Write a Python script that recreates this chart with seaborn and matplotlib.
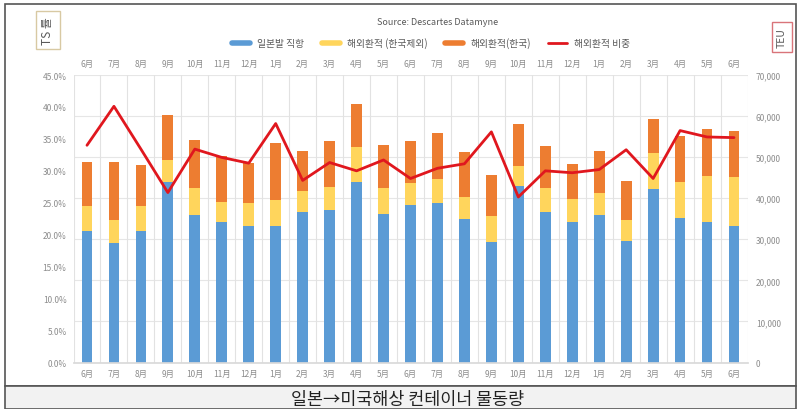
import matplotlib
matplotlib.use("Agg")
import matplotlib.pyplot as plt
import seaborn as sns
import numpy as np
import pandas as pd
from matplotlib.lines import Line2D
from matplotlib.patches import Rectangle

months = ["6月", "7月", "8月", "9月", "10月", "11月", "12月", "1月", "2月", "3月", "4月", "5月", "6月",
          "7月", "8月", "9月", "10月", "11月", "12月", "1月", "2月", "3月", "4月", "5月", "6月"]
direct = [31900, 29100, 32000, 44000, 35900, 34100, 33300, 33300, 36700, 37100, 44000, 36100, 38300,
          38800, 34900, 29300, 43000, 36700, 34100, 35900, 29600, 42200, 35100, 34100, 33200]
ts_ex_korea = [6100, 5600, 6000, 5400, 6500, 5000, 5500, 6200, 5000, 5700, 8400, 6300, 5400,
               6000, 5400, 6300, 4900, 5700, 5700, 5400, 5000, 8900, 8800, 11300, 11900]
ts_korea = [10700, 14000, 10100, 10900, 11800, 11200, 9700, 13900, 9800, 11200, 10500, 10600, 10300,
            11100, 10900, 10000, 10200, 10400, 8600, 10200, 9700, 8300, 11300, 11400, 11300]
ts_share = [34.0, 40.1, 33.4, 26.6, 33.4, 32.1, 31.2, 37.4, 28.5, 31.3, 30.0, 31.7, 28.8,
            30.4, 31.1, 36.1, 25.9, 30.0, 29.7, 30.2, 33.3, 28.8, 36.3, 35.3, 35.2]
legend_labels = ["일본발 직항", "해외환적 (한국제외)", "해외환적(한국)", "해외환적 비중"]

sns.set_theme(style="white")
FAM = ["Noto Sans CJK KR", "DejaVu Sans"]
plt.rcParams["font.family"] = FAM

C_BLUE, C_YEL, C_ORA, C_RED = "#5B9BD5", "#FFD55C", "#ED7D31", "#E0171E"
TICK_C = "#8C8C8C"

idx = list(range(len(months)))
df = pd.DataFrame({
    "i": idx,
    "blue": direct,
    "yel": np.array(direct) + np.array(ts_ex_korea),
    "tot": np.array(direct) + np.array(ts_ex_korea) + np.array(ts_korea),
    "share": ts_share,
})

fig = plt.figure(figsize=(8.02, 4.10), dpi=100)
ax = fig.add_axes([73.5 / 802, 46.5 / 410, 674 / 802, 287.5 / 410])

for col, c in [("tot", C_ORA), ("yel", C_YEL), ("blue", C_BLUE)]:
    sns.barplot(data=df, x="i", y=col, color=c, width=0.4, ax=ax,
                native_scale=True, saturation=1, zorder=2, linewidth=0)

ax.set_xlim(-0.5, len(months) - 0.5)
ax.set_ylim(0, 70000)
ax.set_xticks(idx)
ax.set_xticklabels(months)
ax.tick_params(axis="x", labeltop=True, labelbottom=True, top=False, bottom=False,
               length=0, labelsize=6, colors=TICK_C, pad=5)
ax.set_xlabel("")
ax.set_ylabel("")
for v in range(10000, 70001, 10000):
    ax.axhline(v, color="#E6E6E6", lw=0.8, zorder=0)
for b in np.arange(-0.5, len(months), 1.0):
    ax.axvline(b, color="#E2E2E2", lw=0.8, zorder=0)
for s in ax.spines.values():
    s.set_visible(False)
ax.spines["bottom"].set_visible(True)
ax.spines["bottom"].set_color("#D9D9D9")

ax2 = ax.twinx()
sns.lineplot(data=df, x="i", y="share", color=C_RED, lw=2, ax=ax2, zorder=5)
ax2.set_ylim(0, 45)
ax2.set_yticks(np.arange(0, 45.1, 5))
ax2.set_yticklabels([f"{v:.1f}%" for v in np.arange(0, 45.1, 5)])
ax2.yaxis.tick_left()
ax2.yaxis.set_label_position("left")
ax2.tick_params(axis="y", left=False, right=False, length=0, labelsize=6, colors=TICK_C, pad=5)
ax2.set_ylabel("")
ax2.set_xlabel("")
for s in ax2.spines.values():
    s.set_visible(False)
ax2.set_xlim(-0.5, len(months) - 0.5)

# right TEU axis (set after twinx, which moves ax ticks to the left)
ax.yaxis.tick_right()
ax.set_yticks(range(0, 70001, 10000))
ax.set_yticklabels(["0"] + [f"{v:,}" for v in range(10000, 70001, 10000)])
ax.tick_params(axis="y", right=False, left=False, labelright=True, labelleft=False,
               length=0, labelsize=6, colors=TICK_C, pad=6)

handles = [Line2D([], [], color=C_BLUE, lw=4),
           Line2D([], [], color=C_YEL, lw=4),
           Line2D([], [], color=C_ORA, lw=4),
           Line2D([], [], color=C_RED, lw=2)]
fig.legend(handles, legend_labels, loc="center", bbox_to_anchor=(0.537, 0.893), ncol=4,
           frameon=False, handlelength=1.9, handletextpad=0.7, columnspacing=1.8,
           labelcolor="#595959", prop={"family": FAM, "size": 7})

fig.text(0.545, 0.946, "Source: Descartes Datamyne", ha="center", va="center",
         fontsize=6.5, color="#595959", family=FAM)

# axis unit boxes
fig.text(48 / 802, 1 - 31 / 410, "TS 률", rotation=90, ha="center", va="center",
         fontsize=8.5, color="#595959", family=FAM,
         bbox=dict(boxstyle="square,pad=0.45", fc="white", ec="#D8C9A3", lw=1))
fig.text(782 / 802, 1 - 38 / 410, "TEU", rotation=90, ha="center", va="center",
         fontsize=7.5, color="#595959", family=FAM,
         bbox=dict(boxstyle="square,pad=0.45", fc="white", ec="#D9747A", lw=1))

# outer frame and caption band
fig.patches.append(Rectangle((5 / 802, 23 / 410), 791 / 802, 382 / 410, transform=fig.transFigure,
                             fill=False, ec="#555555", lw=1.2, zorder=0))
fig.patches.append(Rectangle((5 / 802, 0), 791 / 802, 23 / 410, transform=fig.transFigure,
                             fc="#F2F2F2", ec="#555555", lw=1.2, zorder=0))
fig.text(0.508, 10 / 410, "일본→미국해상 컨테이너 물동량", ha="center", va="center",
         fontsize=12.5, color="#222222", family=FAM)

fig.savefig("out.png", dpi=100)
